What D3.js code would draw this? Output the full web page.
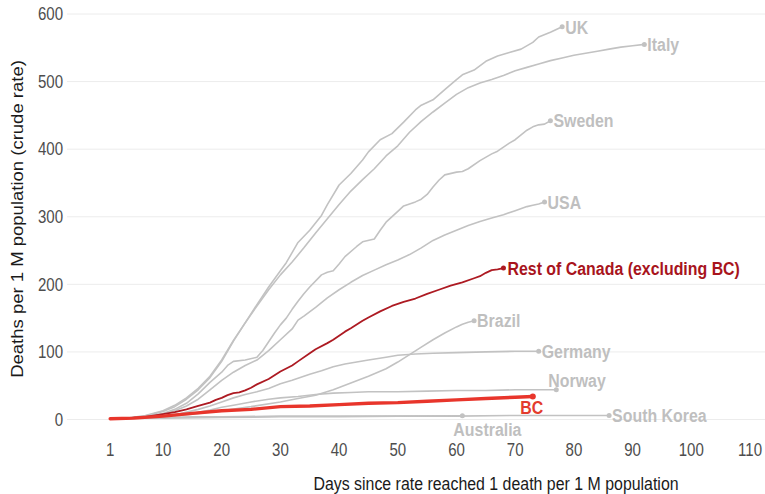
<!DOCTYPE html>
<html>
<head>
<meta charset="utf-8">
<script src="https://cdn.jsdelivr.net/npm/d3@7"></script>
<style>
  html, body { margin: 0; padding: 0; background: #fff; }
  svg { display: block; }
  text { font-family: "Liberation Sans", Arial, sans-serif; }
</style>
</head>
<body>
<svg id="chart" width="765" height="494"></svg>
<script>
// ---- data (day, deaths per 1M) ----
const xTicks = [1, 10, 20, 30, 40, 50, 60, 70, 80, 90, 100, 110];
const yTicks = [0, 100, 200, 300, 400, 500, 600];

const uk = [[1,1],[4,2],[7,5],[10,12],[12,19],[14,30],[16,44],[18,62],[20,86],[22,116],[24,143],[26,170],[28,196],[30,220],[31,232],[33,262],[35,280],[37,302],[38,318],[40,347],[42,364],[44,384],[45,396],[47,414],[49,423],[51,440],[53,458],[54,465],[56,473],[58,488],[60,503],[61,510],[63,517],[65,530],[67,538],[69,543],[71,548],[73,558],[74,566],[76,573],[77,577],[78,581]];
const italy = [[1,1],[4,2],[7,6],[10,13],[12,21],[14,32],[16,46],[18,64],[20,88],[22,117],[24,143],[26,168],[28,192],[30,214],[32,233],[34,254],[36,276],[38,297],[40,318],[42,338],[44,355],[46,371],[48,390],[50,405],[52,425],[54,441],[56,455],[58,468],[60,481],[62,491],[64,498],[66,503],[68,509],[70,516],[72,521],[74,526],[76,531],[78,535],[80,539],[82,542],[84,545],[86,548],[88,551],[90,553],[92,555]];
const sweden = [[1,1],[4,2],[7,4],[10,9],[12,15],[14,24],[16,38],[18,55],[20,70],[21,80],[22,86],[24,88],[26,92],[27,102],[28,115],[29,128],[30,140],[31,150],[32,163],[33,175],[34,186],[35,196],[37,214],[38,218],[39,220],[40,230],[41,241],[43,256],[44,263],[46,267],[47,280],[48,292],[50,308],[51,316],[53,322],[54,326],[55,333],[56,344],[57,354],[58,362],[60,366],[61,367],[62,371],[64,383],[66,393],[67,397],[68,403],[69,409],[70,414],[71,421],[72,428],[73,433],[74,436],[75,437],[76,442]];
const usa = [[1,1],[4,2],[7,4],[10,8],[12,13],[14,20],[16,30],[18,44],[20,58],[22,70],[24,80],[26,88],[28,102],[30,118],[32,134],[33,147],[34,153],[36,166],[38,180],[40,192],[42,203],[44,213],[46,221],[48,229],[50,236],[52,244],[54,254],[56,265],[58,273],[60,280],[62,287],[64,293],[66,298],[68,303],[70,309],[72,315],[73,317],[74,319],[75,322]];
const restCanada = [[1,1],[4,2],[7,4],[10,8],[12,11],[14,15],[16,20],[18,25],[19,29],[20,32],[21,36],[22,39],[23,40],[24,43],[25,47],[26,52],[28,60],[30,71],[32,80],[33,86],[35,98],[36,104],[38,113],[39,118],[41,130],[42,135],[44,146],[45,151],[47,160],[49,168],[51,174],[53,179],[55,186],[57,192],[59,198],[61,203],[63,209],[64,212],[65,217],[66,221],[67,222],[68,224]];
const brazil = [[1,1],[5,2],[10,4],[15,8],[20,13],[25,19],[30,26],[33,31],[36,36],[39,44],[42,54],[45,64],[48,75],[50,85],[52,96],[54,107],[56,118],[58,128],[60,137],[61,141],[62,144],[63,146]];
const germany = [[1,1],[5,2],[10,5],[13,9],[16,15],[18,20],[20,26],[22,32],[24,37],[26,41],[28,46],[30,53],[32,58],[34,64],[35,67],[37,72],[39,78],[41,82],[43,85],[45,88],[48,92],[50,95],[53,97],[56,98],[60,99],[65,100],[70,101],[74,101]];
const norway = [[1,1],[5,2],[10,4],[15,9],[18,14],[20,18],[22,21],[25,26],[28,30],[30,32],[33,34],[36,37],[39,39],[42,40],[45,41],[50,41],[55,42],[60,43],[65,43],[70,44],[77,44]];
const bc = [[1,1],[5,2],[10,5],[15,9],[20,13],[25,15],[30,19],[35,20],[40,22],[45,24],[50,25],[55,27],[60,29],[65,31],[70,33],[73,34]];
const southKorea = [[1,1],[5,2],[10,3],[15,4],[20,4],[30,5],[40,5],[50,5],[60,5],[70,6],[80,6],[86,6]];
const australia = [[1,1],[5,2],[10,2],[20,3],[30,4],[40,4],[50,5],[61,5.5]];

const seriesNames = ["UK","Italy","Sweden","USA","Brazil","Germany","Norway","South Korea","Australia","Rest of Canada (excluding BC)","BC"];
const seriesData  = [uk, italy, sweden, usa, brazil, germany, norway, southKorea, australia, restCanada, bc];

// ---- styling / layout (not data) ----
const GREY = "#c2c2c2", DARKRED = "#ad1a22", RED = "#e8352b";
const style = {
  "UK": {c: GREY, w: 1.6, dx: 3, dy: 0, anchor: "start"},
  "Italy": {c: GREY, w: 1.6, dx: 3, dy: 0, anchor: "start"},
  "Sweden": {c: GREY, w: 1.6, dx: 3, dy: 0, anchor: "start"},
  "USA": {c: GREY, w: 1.6, dx: 3, dy: 0, anchor: "start"},
  "Brazil": {c: GREY, w: 1.6, dx: 3, dy: 0, anchor: "start"},
  "Germany": {c: GREY, w: 1.6, dx: 3, dy: 0, anchor: "start"},
  "Norway": {c: GREY, w: 1.6, dx: -8, dy: -9, anchor: "start"},
  "South Korea": {c: GREY, w: 1.6, dx: 3, dy: 0, anchor: "start"},
  "Australia": {c: GREY, w: 1.6, dx: -9, dy: 14, anchor: "start"},
  "Rest of Canada (excluding BC)": {c: DARKRED, w: 1.8, dx: 4, dy: 0, anchor: "start", lc: "#a8141c"},
  "BC": {c: RED, w: 3.4, dx: -1, dy: 11, anchor: "middle", lc: "#e33b2e"}
};
const SX = 0.86; // horizontal squash of the original raster

const svg = d3.select("#chart");
const x = d3.scaleLinear().domain([0, 110]).range([104.3, 750]);
const y = d3.scaleLinear().domain([0, 600]).range([419.5, 14]);

// gridlines
svg.append("g").selectAll("line").data(yTicks).join("line")
  .attr("x1", 67).attr("x2", 765)
  .attr("y1", d => y(d)).attr("y2", d => y(d))
  .attr("stroke", "#ececec").attr("stroke-width", 1);

// y tick labels
svg.append("g").selectAll("g").data(yTicks).join("g")
  .attr("transform", d => `translate(63,${y(d)}) scale(${SX},1)`)
  .append("text")
  .attr("text-anchor", "end").attr("dy", "0.36em")
  .attr("font-size", 17.5).attr("fill", "#4d4d4d")
  .text(d => d);

// x tick labels
svg.append("g").selectAll("g").data(xTicks).join("g")
  .attr("transform", d => `translate(${x(d)},450) scale(${SX},1)`)
  .append("text")
  .attr("text-anchor", "middle").attr("dy", "0.36em")
  .attr("font-size", 17.5).attr("fill", "#4d4d4d")
  .text(d => d);

// axis titles
svg.append("g").attr("transform", `translate(496,483) scale(${SX},1)`)
  .append("text").attr("text-anchor", "middle").attr("dy", "0.36em")
  .attr("font-size", 18.5).attr("fill", "#1a1a1a")
  .text("Days since rate reached 1 death per 1 M population");
svg.append("g").attr("transform", `translate(17,219) scale(${SX},1) rotate(-90)`)
  .append("text").attr("text-anchor", "middle").attr("dy", "0.36em")
  .attr("font-size", 18.5).attr("fill", "#1a1a1a")
  .text("Deaths per 1 M population (crude rate)");

// lines
const line = d3.line().x(d => x(d[0])).y(d => y(d[1])).curve(d3.curveLinear);
const series = seriesNames.map((n, i) => ({name: n, values: seriesData[i], s: style[n]}));

const gl = svg.append("g");
gl.selectAll("path").data(series).join("path")
  .attr("d", d => line(d.values))
  .attr("fill", "none")
  .attr("stroke", d => d.s.c)
  .attr("stroke-width", d => d.s.w)
  .attr("stroke-linejoin", "round").attr("stroke-linecap", "round");

// end dots
gl.selectAll("circle").data(series).join("circle")
  .attr("cx", d => x(d.values[d.values.length - 1][0]))
  .attr("cy", d => y(d.values[d.values.length - 1][1]))
  .attr("r", d => d.name === "BC" ? 3 : 2.5)
  .attr("fill", d => d.s.c);

// labels
svg.append("g").selectAll("g").data(series).join("g")
  .attr("transform", d => {
    const last = d.values[d.values.length - 1];
    return `translate(${x(last[0]) + d.s.dx},${y(last[1]) + d.s.dy}) scale(${SX},1)`;
  })
  .append("text")
  .attr("text-anchor", d => d.s.anchor)
  .attr("dy", "0.36em")
  .attr("font-size", 18.5).attr("font-weight", "bold")
  .attr("fill", d => d.s.lc || "#bfbfbf")
  .text(d => d.name);
</script>
</body>
</html>
